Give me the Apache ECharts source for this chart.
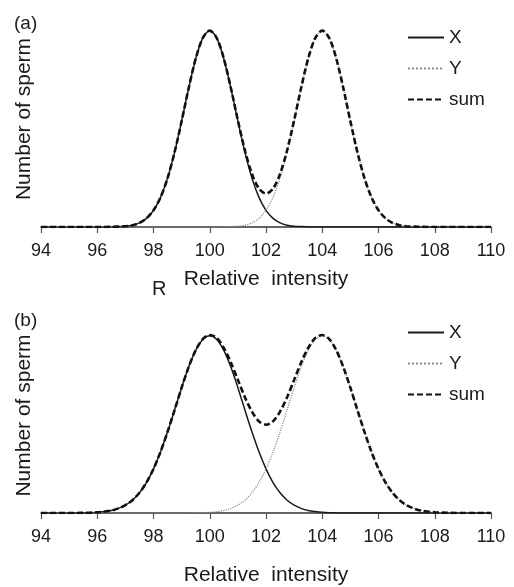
<!DOCTYPE html>
<html>
<head>
<meta charset="utf-8">
<script src="https://cdn.jsdelivr.net/npm/echarts@6/dist/echarts.min.js"></script>
<style>
html,body{margin:0;padding:0;background:#fff;}
#chart{width:514px;height:587px;}
</style>
</head>
<body>
<div id="chart"></div>
<script>
// sample positions (relative intensity)
const xs = [94,94.25,94.5,94.75,95,95.25,95.5,95.75,96,96.25,96.5,96.75,97,97.25,97.5,97.75,
  98,98.25,98.5,98.75,99,99.25,99.5,99.75,100,100.25,100.5,100.75,101,101.25,101.5,101.75,
  102,102.25,102.5,102.75,103,103.25,103.5,103.75,104,104.25,104.5,104.75,105,105.25,105.5,105.75,
  106,106.25,106.5,106.75,107,107.25,107.5,107.75,108,108.25,108.5,108.75,109,109.25,109.5,109.75,110];
const xTicks = [94,96,98,100,102,104,106,108,110];
const seriesNames = ['X','Y','sum'];

// panel (a)
const aX = [0,0,0,0,0,0,0,0,0,0,
  0.001,0.002,0.004,0.009,0.021,0.044,0.085,0.151,0.249,0.381,0.539,0.707,0.857,0.962,1,
  0.962,0.857,0.707,0.539,0.381,0.249,0.151,0.085,0.044,0.021,0.009,0.004,0.002,0.001,
  0,0,0,0,0,0,0,0,0,0,0,0,0,0,0,0,0,0,0,0,0,0,0,0,0,0];
const aY = [0,0,0,0,0,0,0,0,0,0,0,0,0,0,0,0,0,0,0,0,0,0,0,0,0,0,
  0.001,0.002,0.004,0.009,0.021,0.044,0.085,0.151,0.249,0.381,0.539,0.707,0.857,0.962,1,
  0.962,0.857,0.707,0.539,0.381,0.249,0.151,0.085,0.044,0.021,0.009,0.004,0.002,0.001,
  0,0,0,0,0,0,0,0,0,0];
const aSum = [0,0,0,0,0,0,0,0,0,0,
  0.001,0.002,0.004,0.009,0.021,0.044,0.085,0.151,0.249,0.381,0.539,0.707,0.857,0.962,1,0.962,
  0.858,0.709,0.543,0.390,0.270,0.195,0.170,0.195,0.270,0.390,0.543,0.709,0.858,
  0.962,1,
  0.962,0.857,0.707,0.539,0.381,0.249,0.151,0.085,0.044,0.021,0.009,0.004,0.002,0.001,
  0,0,0,0,0,0,0,0,0,0];

// panel (b)
const bX = [0,0,0,0,0,0,
  0.001,0.002,0.004,0.008,0.014,0.026,0.044,0.072,0.114,0.172,0.249,0.345,0.458,0.581,0.707,0.823,0.917,0.979,1,
  0.979,0.917,0.823,0.707,0.581,0.458,0.345,0.249,0.172,0.114,0.072,0.044,0.026,0.014,0.008,0.004,0.002,0.001,
  0,0,0,0,0,0,0,0,0,0,0,0,0,0,0,0,0,0,0,0,0,0];
const bY = [0,0,0,0,0,0,0,0,0,0,0,0,0,0,0,0,0,0,0,0,0,0,
  0.001,0.002,0.004,0.008,0.014,0.026,0.044,0.072,0.114,0.172,0.249,0.345,0.458,0.581,0.707,0.823,0.917,0.979,1,
  0.979,0.917,0.823,0.707,0.581,0.458,0.345,0.249,0.172,0.114,0.072,0.044,0.026,0.014,0.008,0.004,0.002,0.001,
  0,0,0,0,0,0];
const bSum = [0,0,0,0,0,0,
  0.001,0.002,0.004,0.008,0.014,0.026,0.044,0.072,0.114,0.172,0.249,0.345,0.458,0.581,0.707,0.823,
  0.918,0.981,1.004,0.987,0.931,0.849,0.751,0.653,0.572,0.517,0.498,0.517,0.572,0.653,0.751,0.849,0.931,0.987,1.004,
  0.981,0.918,0.823,0.707,0.581,0.458,0.345,0.249,0.172,0.114,0.072,0.044,0.026,0.014,0.008,0.004,0.002,0.001,
  0,0,0,0,0,0];

const pair = arr => xs.map((x, i) => [x, arr[i]]);
const FONT = '"Liberation Sans", Arial, sans-serif';
const TXT = '#1a1a1a';

const styles = {
  X:   {color:'#1a1a1a', width:1.5, type:'solid'},
  Y:   {color:'#8a8a8a', width:1.2, type:'dotted'},
  sum: {color:'#111111', width:2.6, type:[6,3]}
};

function mkSeries(name, data, idx){
  const s = styles[name];
  return {
    name, type:'line', xAxisIndex:idx, yAxisIndex:idx, data:pair(data),
    symbol:'none', smooth:0.3, animation:false,
    lineStyle:{color:s.color, width:s.width, type:s.type},
    itemStyle:{color:s.color}
  };
}

function mkX(idx, gap){
  return {
    type:'value', gridIndex:idx, min:94, max:110, interval:2,
    name:'Relative  intensity', nameLocation:'middle', nameGap:gap,
    nameTextStyle:{fontFamily:FONT, fontSize:21, color:TXT},
    axisLine:{show:true, lineStyle:{color:'#333', width:1.5}},
    axisTick:{show:true, inside:false, length:6, lineStyle:{color:'#555', width:1.2}},
    axisLabel:{show:true, margin:15, fontFamily:FONT, fontSize:18, color:TXT,
      formatter: v => xTicks.includes(v) ? String(v) : ''},
    splitLine:{show:false}
  };
}
function mkY(idx){
  return {
    type:'value', gridIndex:idx, min:0, max:1.1,
    name:'Number of sperm', nameLocation:'middle', nameRotate:90, nameGap:6,
    nameTextStyle:{fontFamily:FONT, fontSize:21, color:TXT},
    axisLine:{show:false}, axisTick:{show:false}, axisLabel:{show:false}, splitLine:{show:false}
  };
}
function mkLegend(top){
  return {
    orient:'vertical', left:407, top:top, padding:0,
    itemWidth:36, itemHeight:14, itemGap:12,
    data:seriesNames,
    itemStyle:{opacity:0},
    textStyle:{fontFamily:FONT, fontSize:19, color:TXT},
    selectedMode:false
  };
}

const chart = echarts.init(document.getElementById('chart'), null, {renderer:'canvas'});
chart.setOption({
  animation:false,
  backgroundColor:'#fff',
  grid:[
    {left:41, top:11, width:450, height:216},
    {left:41, top:318, width:450, height:199}
  ],
  xAxis:[mkX(0, 42), mkX(1, 52)],
  yAxis:[mkY(0), mkY(1)],
  legend:[mkLegend(28), mkLegend(323)],
  graphic:[
    {type:'text', left:14, top:14, style:{text:'(a)', fontFamily:FONT, fontSize:19, fill:TXT}},
    {type:'text', left:14, top:311, style:{text:'(b)', fontFamily:FONT, fontSize:19, fill:TXT}},
    {type:'text', left:152, top:279, style:{text:'R', fontFamily:FONT, fontSize:20, fill:TXT}}
  ],
  series:[
    mkSeries('X', aX, 0), mkSeries('Y', aY, 0), mkSeries('sum', aSum, 0),
    mkSeries('X', bX, 1), mkSeries('Y', bY, 1), mkSeries('sum', bSum, 1)
  ]
});
</script>
</body>
</html>
